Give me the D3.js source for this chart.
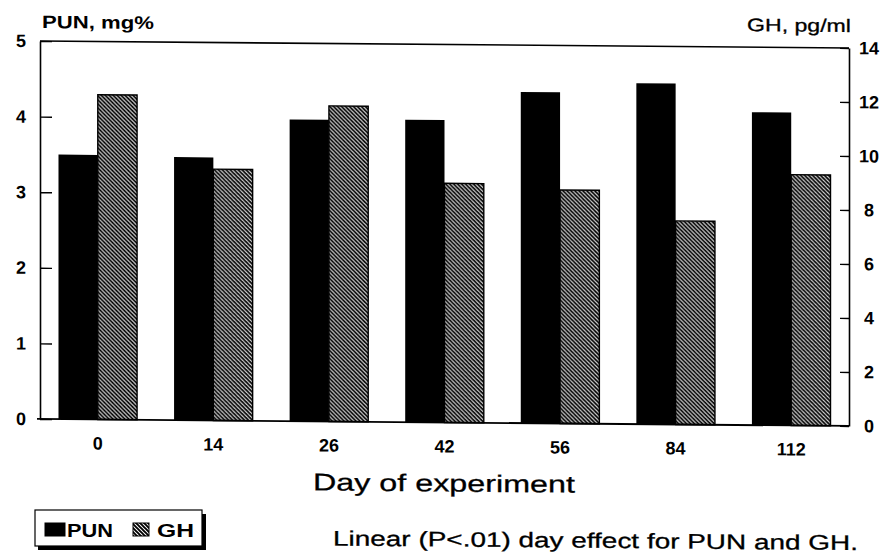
<!DOCTYPE html>
<html>
<head>
<meta charset="utf-8">
<style>
  body { margin: 0; background: #fff; }
  text { font-family: "Liberation Sans", Arial, Helvetica, sans-serif; fill: #000; }
  .heavy { stroke: #000; stroke-width: 0.3px; }
</style>
</head>
<body>
<svg width="890" height="556"></svg>
<script src="https://cdn.jsdelivr.net/npm/d3@7"></script>
<script>

// values
var days = ["0", "14", "26", "42", "56", "84", "112"];
var pun = [3.50, 3.48, 3.99, 4.00, 4.38, 4.51, 4.14];   // mg%
var gh = [12.03, 9.31, 11.69, 8.86, 8.65, 7.54, 9.29];  // pg/ml
var punTicks = [0, 1, 2, 3, 4, 5];
var ghTicks = [0, 2, 4, 6, 8, 10, 12, 14];
var series = ["PUN", "GH"];

var svg = d3.select("svg");

// (window.top is read-only, so no plain "top" here)
var plotLeft = 40, plotRight = 849, plotTop = 41, plotBottom = 419;

// hatch used for the GH bars
var defs = svg.append("defs");
var pat = defs.append("pattern")
    .attr("id", "hatch")
    .attr("patternUnits", "userSpaceOnUse")
    .attr("width", 4)
    .attr("height", 4);
pat.append("rect").attr("width", 4).attr("height", 4).attr("fill", "#fff");
pat.append("path")
    .attr("d", "M-1,-1 L5,5 M-1,3 L1,5 M3,-1 L5,1")
    .attr("stroke", "#000")
    .attr("stroke-width", 1.9);

// the scan is slightly sheared, so follow it
var g = svg.append("g")
    .attr("transform", "matrix(1,0.0086,0,1,0," + (-plotLeft * 0.0086) + ")");

var x0 = d3.scaleBand()
    .domain(days)
    .range([plotLeft, plotRight])
    .paddingInner(0.32)
    .paddingOuter(0.16);

var x1 = d3.scaleBand()
    .domain(series)
    .range([0, x0.bandwidth()]);

var yL = d3.scaleLinear().domain([0, 5]).range([plotBottom, plotTop]);
var yR = d3.scaleLinear().domain([0, 14]).range([plotBottom, plotTop]);

var groups = g.selectAll(".day")
  .data(days)
  .enter().append("g")
    .attr("class", "day")
    .attr("transform", function(d) { return "translate(" + x0(d) + ",0)"; });

groups.append("rect")
    .attr("x", x1("PUN"))
    .attr("y", function(d, i) { return yL(pun[i]); })
    .attr("width", x1.bandwidth())
    .attr("height", function(d, i) { return plotBottom - yL(pun[i]); })
    .attr("fill", "#000");

groups.append("rect")
    .attr("x", x1("GH"))
    .attr("y", function(d, i) { return yR(gh[i]); })
    .attr("width", x1.bandwidth())
    .attr("height", function(d, i) { return plotBottom - yR(gh[i]); })
    .attr("fill", "url(#hatch)")
    .attr("stroke", "#000")
    .attr("stroke-width", 1.4);

// frame
g.append("line")
    .attr("x1", plotLeft).attr("x2", plotRight)
    .attr("y1", plotTop).attr("y2", plotTop)
    .attr("stroke", "#000").attr("stroke-width", 1.6);
g.append("line")
    .attr("x1", plotLeft - 3).attr("x2", plotRight)
    .attr("y1", plotBottom).attr("y2", plotBottom)
    .attr("stroke", "#000").attr("stroke-width", 1.8);

var axL = g.append("g")
    .attr("transform", "translate(" + plotLeft + ",0)")
    .call(d3.axisLeft(yL).tickValues(punTicks).tickFormat(d3.format("d"))
      .tickSizeInner(-12).tickSizeOuter(0).tickPadding(19));

var axR = g.append("g")
    .attr("transform", "translate(" + plotRight + ",0)")
    .call(d3.axisRight(yR).tickValues(ghTicks).tickFormat(d3.format("d"))
      .tickSizeInner(-9).tickSizeOuter(0).tickPadding(20));

[axL, axR].forEach(function(ax) {
  ax.select(".domain").attr("stroke-width", 1.6);
  ax.selectAll(".tick line").attr("stroke-width", 1.4);
  ax.selectAll(".tick text")
      .attr("text-anchor", "middle")
      .style("font-family", "'Liberation Sans', Arial, sans-serif")
      .style("font-size", "18px")
      .style("font-weight", "bold");
});

// day labels under the groups
g.selectAll(".xlab")
  .data(days)
  .enter().append("text")
    .attr("class", "xlab")
    .attr("x", function(d) { return x0(d) + x0.bandwidth() / 2; })
    .attr("y", 449)
    .attr("text-anchor", "middle")
    .style("font-size", "18px")
    .style("font-weight", "bold")
    .text(function(d) { return d; });

g.append("text")
    .attr("x", 42).attr("y", 28)
    .attr("textLength", 112).attr("lengthAdjust", "spacingAndGlyphs")
    .style("font-size", "18px").style("font-weight", "bold")
    .text("PUN, mg%");

g.append("text")
    .attr("class", "heavy")
    .attr("x", 747).attr("y", 25)
    .attr("textLength", 104).attr("lengthAdjust", "spacingAndGlyphs")
    .style("font-size", "18px")
    .text("GH, pg/ml");

g.append("text")
    .attr("class", "heavy")
    .attr("x", 313).attr("y", 488)
    .attr("textLength", 262).attr("lengthAdjust", "spacingAndGlyphs")
    .style("font-size", "24px")
    .text("Day of experiment");

g.append("text")
    .attr("class", "heavy")
    .attr("x", 333).attr("y", 543)
    .attr("textLength", 525).attr("lengthAdjust", "spacingAndGlyphs")
    .style("font-size", "21px")
    .text("Linear (P<.01) day effect for PUN and GH.");

// legend
var leg = svg.append("g");
leg.append("rect")
    .attr("x", 38).attr("y", 514).attr("width", 168).attr("height", 36)
    .attr("fill", "#000");
leg.append("rect")
    .attr("x", 35).attr("y", 510).attr("width", 167).attr("height", 36)
    .attr("fill", "#fff").attr("stroke", "#000").attr("stroke-width", 1.2);

var legItems = leg.selectAll(".item")
  .data(series)
  .enter().append("g")
    .attr("class", "item")
    .attr("transform", function(d, i) { return "translate(" + (45 + i * 88) + ",0)"; });

legItems.append("rect")
    .attr("x", 0).attr("y", 523)
    .attr("width", function(d, i) { return i ? 16 : 20; })
    .attr("height", 13)
    .attr("fill", function(d) { return d === "PUN" ? "#000" : "url(#hatch)"; })
    .attr("stroke", "#000").attr("stroke-width", 1);

legItems.append("text")
    .attr("x", function(d, i) { return i ? 24 : 22; })
    .attr("y", 537)
    .attr("textLength", function(d) { return d === "PUN" ? 46 : 37; })
    .attr("lengthAdjust", "spacingAndGlyphs")
    .style("font-size", "18px").style("font-weight", "bold")
    .text(function(d) { return d; });

</script>
</body>
</html>
